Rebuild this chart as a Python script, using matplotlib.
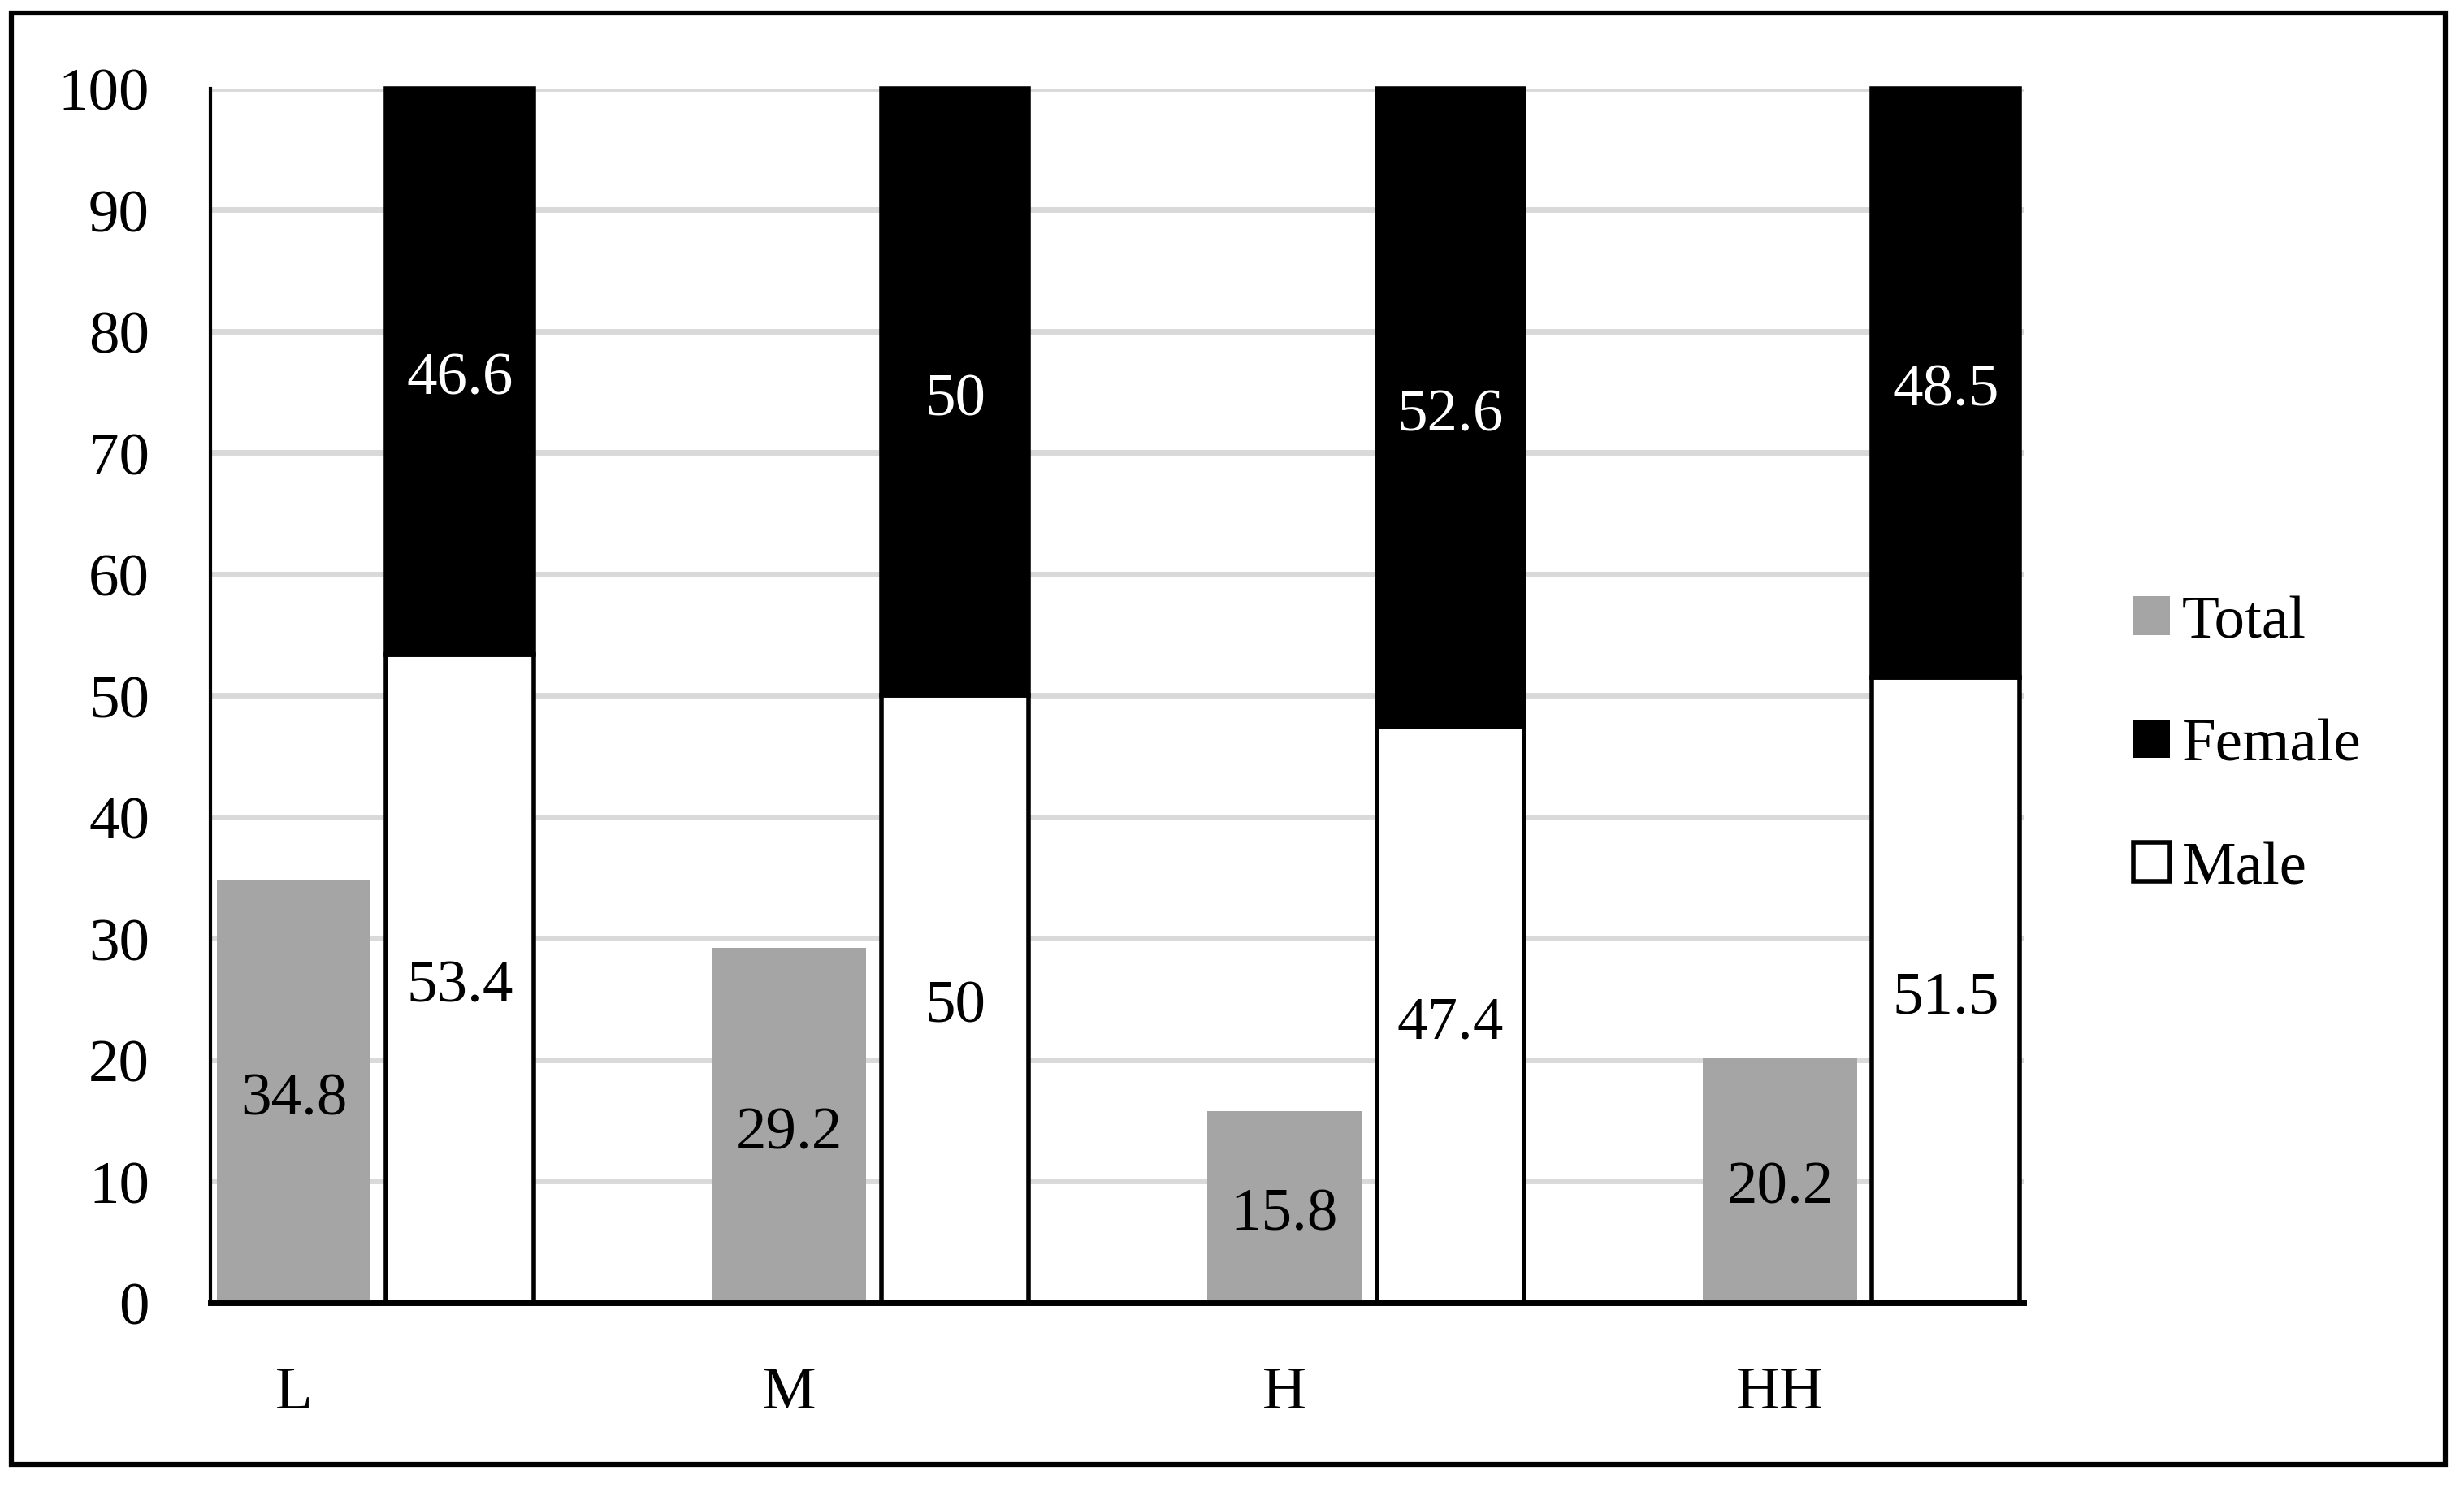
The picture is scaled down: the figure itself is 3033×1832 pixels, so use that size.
import numpy as np
import matplotlib.pyplot as plt
from matplotlib.patches import Patch, Rectangle

categories = ['L', 'M', 'H', 'HH']
total = [34.8, 29.2, 15.8, 20.2]
male = [53.4, 50, 47.4, 51.5]
female = [46.6, 50, 52.6, 48.5]

plt.rcParams['font.family'] = ['Liberation Serif', 'DejaVu Serif']
plt.rcParams['font.size'] = 54

fig = plt.figure(figsize=(30.33, 18.33), dpi=100)
ax = fig.add_axes([0.0854, 0.1244, 0.7359, 0.8156])

x = np.arange(len(categories))
b_tot = ax.bar(x, total, 0.311, color='#a5a5a5', zorder=2)
b_male = ax.bar(x + 0.335, male, 0.298, color='white', edgecolor='black',
                linewidth=4, zorder=2)
b_fem = ax.bar(x + 0.335, female, 0.298, bottom=male, color='black',
               edgecolor='black', linewidth=4, zorder=2, clip_on=False)


def etiquettes(bars, valeurs, couleur):
    # valeur au milieu de chaque barre, un peu plus bas comme dans Excel
    for rect, v in zip(bars, valeurs):
        xc = rect.get_x() + rect.get_width() / 2
        yc = rect.get_y() + rect.get_height() / 2
        ax.annotate(f'{v:g}', (xc, yc), xytext=(0, -7), textcoords='offset points',
                    ha='center', va='center', color=couleur, zorder=5)


etiquettes(b_tot, total, 'black')
etiquettes(b_male, male, 'black')
etiquettes(b_fem, female, 'white')

ax.set_xlim(-0.168, 3.492)
ax.set_ylim(0, 100)
ax.set_yticks(range(0, 101, 10))
ax.set_xticks(x)
ax.set_xticklabels(categories)
ax.yaxis.grid(True, color='#d9d9d9', linewidth=5)
ax.set_axisbelow(True)
ax.tick_params(axis='both', length=0)
ax.tick_params(axis='y', pad=54)
ax.tick_params(axis='x', pad=56)
for s in ['top', 'right']:
    ax.spines[s].set_visible(False)
ax.spines['left'].set_linewidth(3)
ax.spines['bottom'].set_linewidth(5)

# legende a droite
handles = [Patch(facecolor='#a5a5a5', label='Total'),
           Patch(facecolor='black', label='Female'),
           Patch(facecolor='white', edgecolor='black', linewidth=4, label='Male')]
fig.legend(handles=handles, loc='center left', bbox_to_anchor=(0.8535, 0.4985),
           frameon=False, borderpad=0, handlelength=0.6, handleheight=0.6,
           handletextpad=0.2, labelspacing=1.12)

# cadre exterieur
fig.add_artist(Rectangle((14 / 3033, 1 - 1804 / 1833), (3010 - 14) / 3033,
                         (1804 - 17) / 1833, transform=fig.transFigure,
                         fill=False, linewidth=4.5, edgecolor='black'))

fig.savefig('out.png', dpi=100)
